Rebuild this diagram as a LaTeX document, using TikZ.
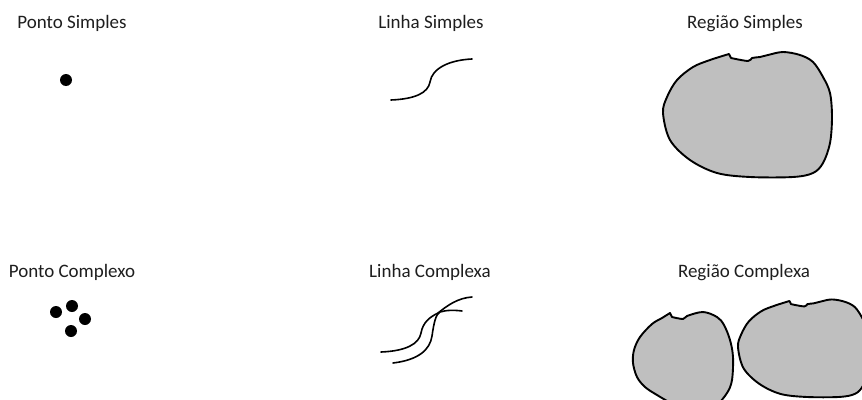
\documentclass[tikz,border=0pt]{standalone}
\usepackage{fontspec}
\setmainfont{Carlito}
\definecolor{regfill}{HTML}{BFBFBF}
\definecolor{txt}{HTML}{1E1E1E}
\newcommand\regiaoShape{(729,54) -- (731,58) -- plot[smooth, tension=0.55] coordinates {(731,58) (748,61) (752,58) (760,57) (768,55) (783,52) (800,55) (813,62) (823,77) (830,93) (832,117) (830,143) (823,163) (813,173) (793,177) (750,177) (717,173) (690,160) (670,140) (663,113) (667,97) (677,80) (693,67) (710,60) (729,54)} -- cycle}
\tikzset{
  lbl/.style={anchor=base, inner sep=0pt, text=txt, font=\fontsize{19}{22}\selectfont},
  region/.style={draw=black, fill=regfill, line width=1.9pt, line join=round},
  curve/.style={draw=black, line width=1.6pt, line cap=round},
  pt/.style={fill=black}
}
\begin{document}
\begin{tikzpicture}[x=1pt,y=-1pt]
\useasboundingbox (0,0) rectangle (862,399);
\clip (0,0) rectangle (862,399);
% labels
\node[lbl] (ps) at (72,28) {Ponto Simples};
\node[lbl] (ls) at (431,28) {Linha Simples};
\node[lbl] (rs) at (745,28) {Região Simples};
\node[lbl] (pc) at (72,277) {Ponto Complexo};
\node[lbl] (lc) at (430,277) {Linha Complexa};
\node[lbl] (rc) at (744,277) {Região Complexa};
% points
\fill[pt] (66,80) circle (6);
\fill[pt] (56,312) circle (6);
\fill[pt] (72,306) circle (6);
\fill[pt] (85,319) circle (6);
\fill[pt] (71,331) circle (6);
% simple line
\draw[curve] (391,100) .. controls (415,99) and (428,93) .. (430,82) .. controls (432,68) and (450,60) .. (472,59);
% complex lines
\draw[curve] (381,352) .. controls (406,351) and (419,344) .. (421,333) .. controls (423,322) and (430,317) .. (438,313) .. controls (448,305) and (458,298) .. (472,297);
\draw[curve] (393,363) .. controls (418,360) and (430,350) .. (432,336) .. controls (434,322) and (436,314) .. (440,312) .. controls (446,310) and (455,310) .. (462,311);
% simple region
\path[region] \regiaoShape;
% complex regions
\begin{scope}[shift={(220.86,258.88)}, scale=0.78]
\path[region] \regiaoShape;
\end{scope}
\path[region] (670,313) -- (672,317) -- plot[smooth, tension=0.55] coordinates {(672,317) (683,319) (687,316) (703,312) (717,317) (724,325) (730,340) (733,357) (732,380) (727,393) (715,406) (695,411) (675,405) (657,395) (645,387) (637,377) (633,363) (634,350) (640,337) (652,324) (662,318) (670,313)} -- cycle;
\end{tikzpicture}
\end{document}
